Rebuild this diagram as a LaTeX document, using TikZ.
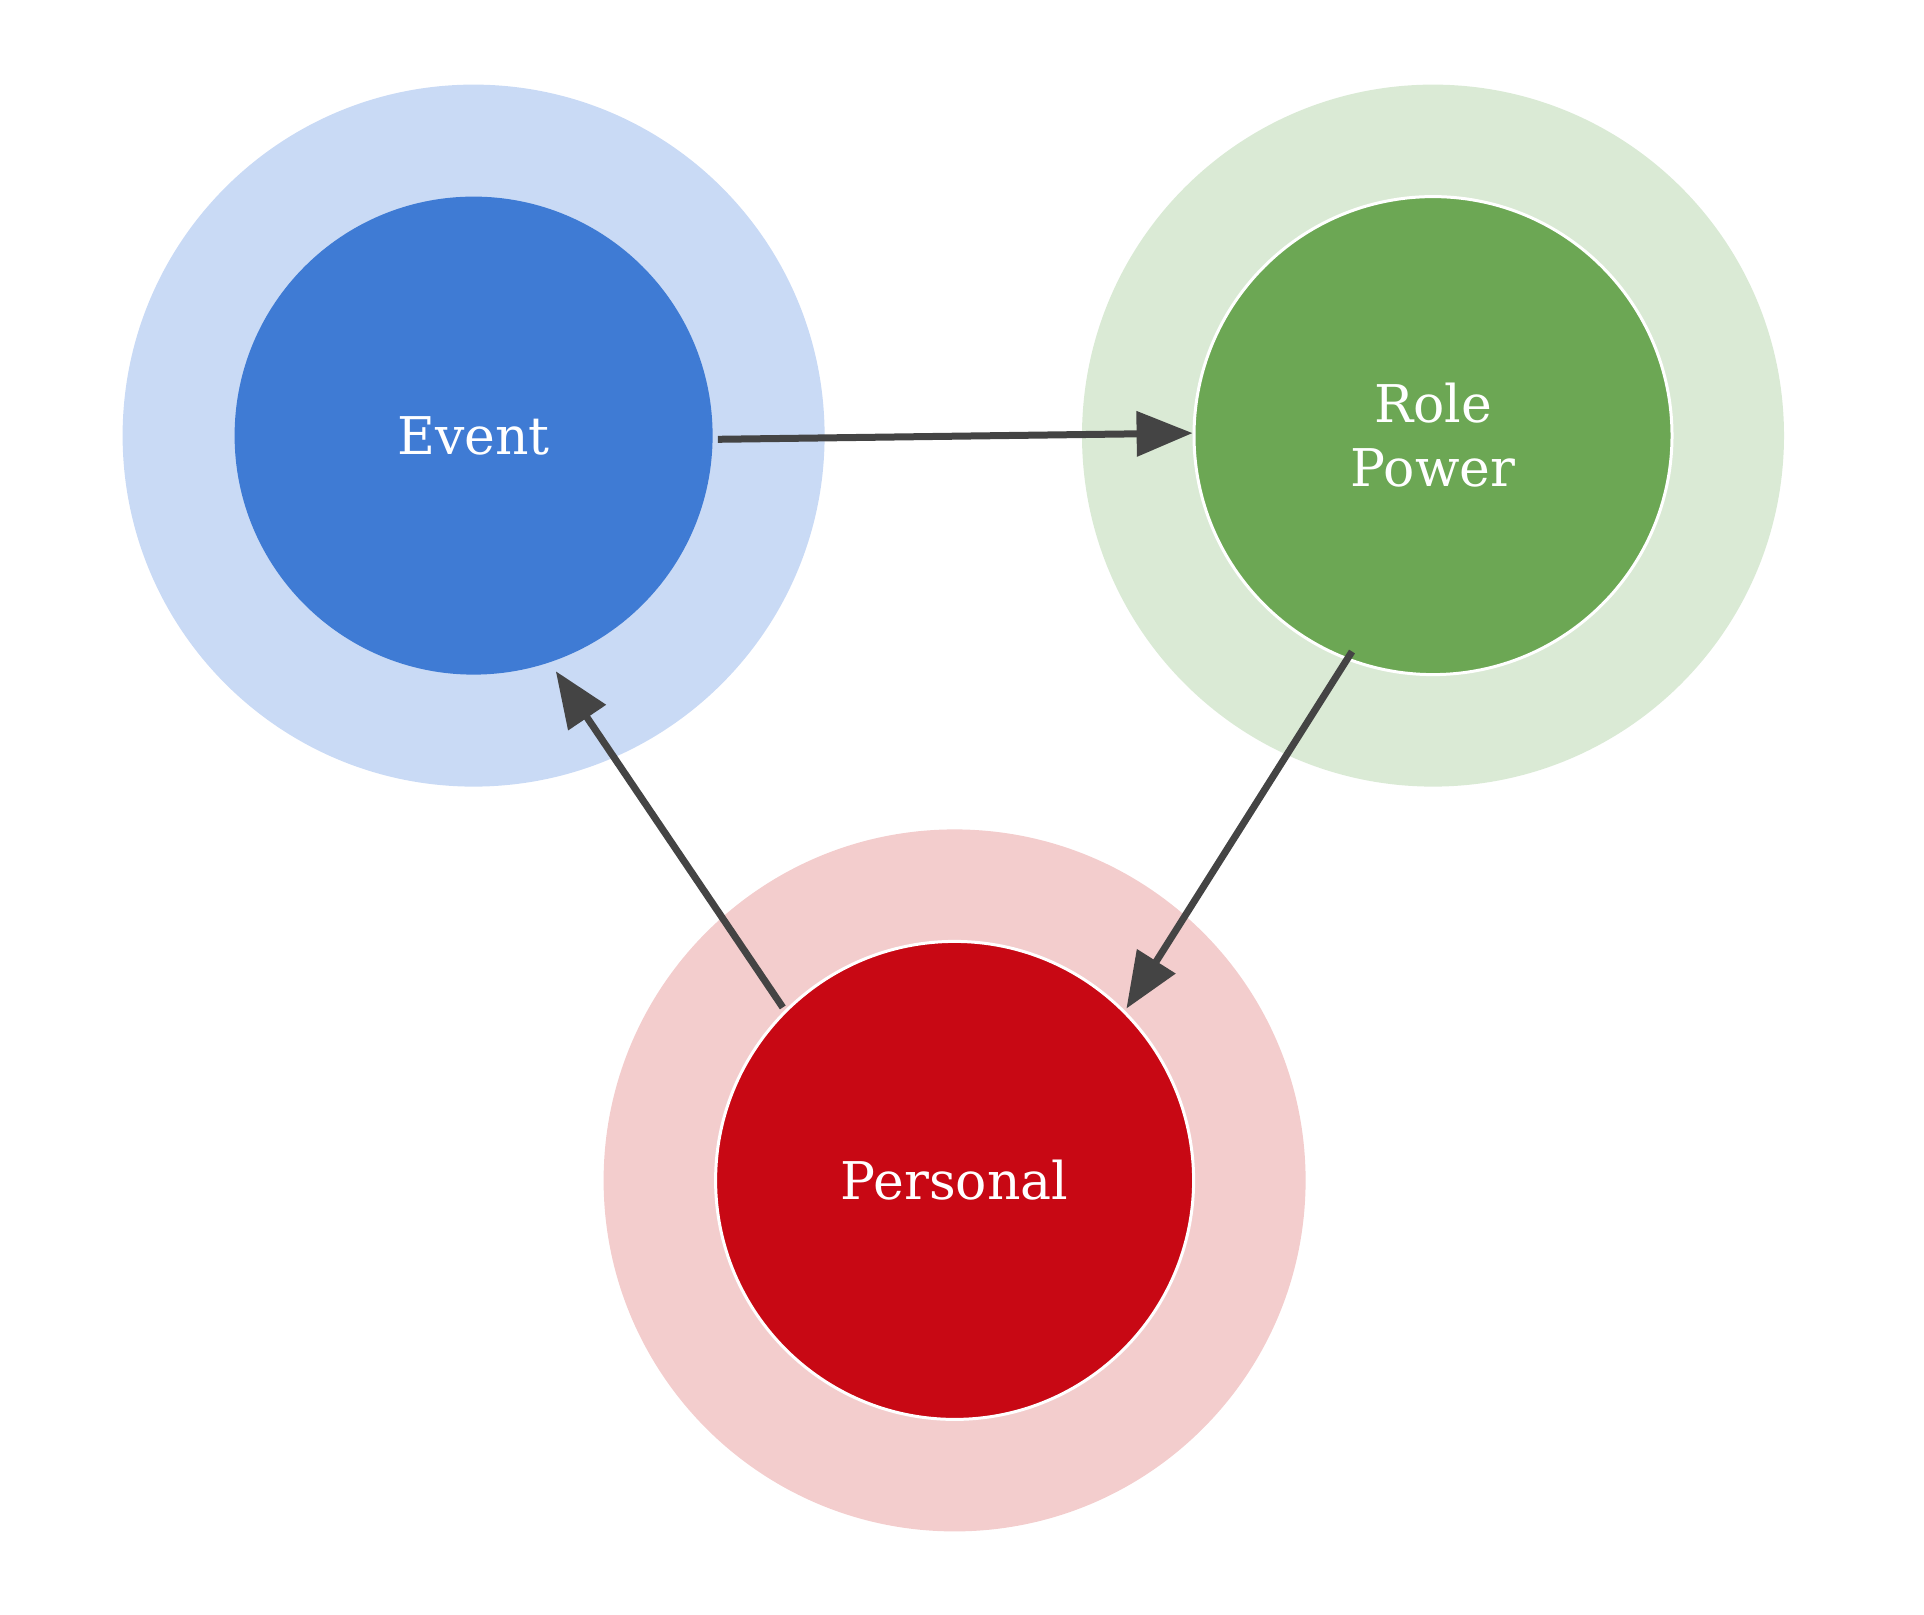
\documentclass[tikz,border=0pt]{standalone}
\usepackage{fontspec}
\setmainfont{DejaVu Serif}
\usetikzlibrary{arrows.meta}
\definecolor{bluein}{HTML}{3F7BD4}
\definecolor{blueout}{HTML}{C9DAF5}
\definecolor{greenin}{HTML}{6CA754}
\definecolor{greenout}{HTML}{DAEAD5}
\definecolor{redin}{HTML}{C80814}
\definecolor{redout}{HTML}{F3CDCD}
\definecolor{arrowc}{HTML}{444444}
\tikzset{
  halo/.style={circle,minimum size=702pt,inner sep=0pt},
  core/.style={circle,minimum size=478pt,inner sep=0pt,text=white,align=center,
    font=\fontsize{52pt}{64pt}\selectfont},
  conn/.style={draw=arrowc,line width=7pt,-{Triangle[length=56pt,width=44pt]}}
}
\begin{document}
\begin{tikzpicture}[x=1pt,y=-1pt]
\useasboundingbox (0,0) rectangle (1924,1614);
\node[halo,fill=blueout] (eh) at (473.6,435.6) {};
\node[halo,fill=greenout] (rh) at (1433,435.6) {};
\node[halo,fill=redout] (ph) at (954.6,1180.4) {};
\node[core,fill=bluein] (ev) at (473.6,435.6) {Event};
\node[core,fill=greenin,draw=white,line width=3pt] (ro) at (1433,435.6) {Role\\Power};
\node[core,fill=redin,draw=white,line width=3pt] (pe) at (954.6,1180.4) {Personal};
\coordinate (a1) at (717.8,439.3);
\coordinate (b1) at (1192.6,433.1);
\coordinate (a2) at (1352,651.5);
\coordinate (b2) at (1126.4,1008.6);
\coordinate (a3) at (782.8,1007.4);
\coordinate (b3) at (555.8,671.2);
\draw[conn] (a1) -- (b1);
\draw[conn] (a2) -- (b2);
\draw[conn] (a3) -- (b3);
\end{tikzpicture}
\end{document}
